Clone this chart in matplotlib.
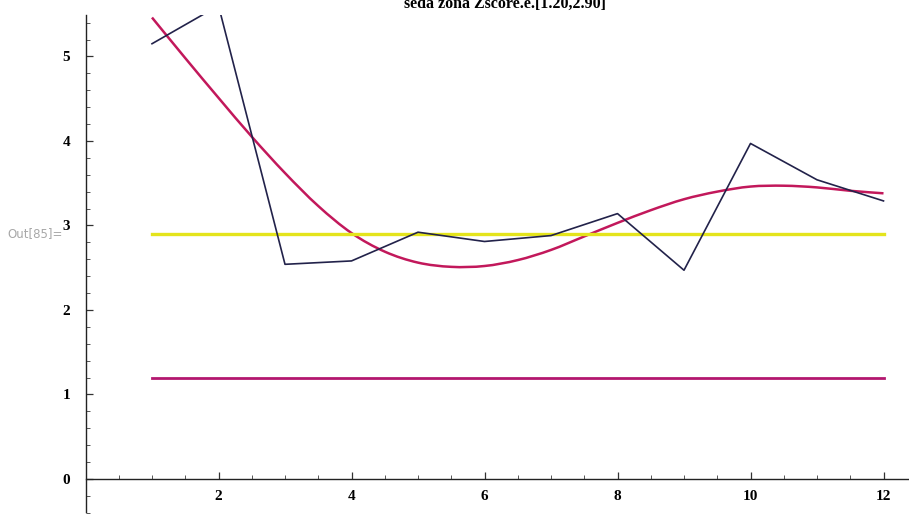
import matplotlib.pyplot as plt
from matplotlib.path import Path
from matplotlib.patches import PathPatch
from matplotlib.ticker import MultipleLocator, FixedLocator

# monthly z-score series
months = [1, 2, 3, 4, 5, 6, 7, 8, 9, 10, 11, 12]
zscore = [5.15, 5.60, 2.54, 2.58, 2.92, 2.81, 2.88, 3.14, 2.47, 3.97, 3.54, 3.29]

# smooth trend read at half-month steps
trend_x = [1, 1.5, 2, 2.5, 3, 3.5, 4, 4.5, 5, 5.5, 6, 6.5, 7, 7.5, 8, 8.5,
           9, 9.5, 10, 10.5, 11, 11.5, 12]
trend_y = [5.46, 4.98, 4.51, 4.05, 3.62, 3.23, 2.91, 2.69, 2.56, 2.51, 2.52,
           2.59, 2.71, 2.87, 3.03, 3.18, 3.31, 3.40, 3.46, 3.47, 3.45, 3.41, 3.38]

# zone limits
zone_low = 1.20
zone_high = 2.90


def smooth_path(xs, ys):
    # Catmull-Rom through the points, as cubic Bezier segments
    pts = list(zip(xs, ys))
    verts = [pts[0]]
    codes = [Path.MOVETO]
    for i in range(len(pts) - 1):
        p0 = pts[i - 1] if i > 0 else pts[i]
        p1, p2 = pts[i], pts[i + 1]
        p3 = pts[i + 2] if i + 2 < len(pts) else pts[i + 1]
        c1 = (p1[0] + (p2[0] - p0[0]) / 6, p1[1] + (p2[1] - p0[1]) / 6)
        c2 = (p2[0] - (p3[0] - p1[0]) / 6, p2[1] - (p3[1] - p1[1]) / 6)
        verts += [c1, c2, p2]
        codes += [Path.CURVE4] * 3
    return Path(verts, codes)


W, H = 909, 517
fig = plt.figure(figsize=(W / 100, H / 100), dpi=100)
x0 = 85.5
ax = fig.add_axes([x0 / W, 0, 1 - x0 / W, (H - 15) / H])
ax.set_xlim(0, (W - x0) / 66.5)
ax.set_ylim(-0.45, 5.49)

serif = 'Liberation Serif'

ax.plot([months[0], months[-1]], [zone_high, zone_high], color='#e4e41c', lw=2.4)
ax.plot([months[0], months[-1]], [zone_low, zone_low], color='#b3176f', lw=2.0)
ax.plot(months, zscore, color='#22224a', lw=1.2)
ax.add_patch(PathPatch(smooth_path(trend_x, trend_y), fill=False,
                       edgecolor='#c2185b', lw=1.8))

for s in ['top', 'right']:
    ax.spines[s].set_visible(False)
ax.spines['left'].set_position(('data', 0))
ax.spines['bottom'].set_position(('data', 0))
ax.spines['left'].set_bounds(-0.39, 5.49)
for s in ['left', 'bottom']:
    ax.spines[s].set_linewidth(1.0)
    ax.spines[s].set_color('#222222')

ax.xaxis.set_major_locator(FixedLocator([2, 4, 6, 8, 10, 12]))
ax.xaxis.set_minor_locator(MultipleLocator(0.5))
ax.yaxis.set_major_locator(MultipleLocator(1))
ax.yaxis.set_minor_locator(MultipleLocator(0.2))
ax.tick_params(axis='both', which='major', direction='in', length=5, width=0.9,
               color='#333333', labelsize=11)
ax.tick_params(axis='both', which='minor', direction='in', length=3, width=0.7,
               color='#555555')
ax.tick_params(axis='x', which='major', pad=8)
ax.tick_params(axis='y', which='major', pad=11)
for lab in ax.get_xticklabels() + ax.get_yticklabels():
    lab.set_fontfamily(serif)
    lab.set_fontweight('bold')

fig.text(505 / W, 1 - 8 / H, 'seda zona Zscore.e.[1.20,2.90]', ha='center',
         va='baseline', fontsize=11.5, family=serif, fontweight='bold')
fig.text(7 / W, 1 - 234 / H, 'Out[85]=', ha='left', va='center', fontsize=8.5,
         color='#a8a8a8')

fig.savefig('out.png', dpi=100)
